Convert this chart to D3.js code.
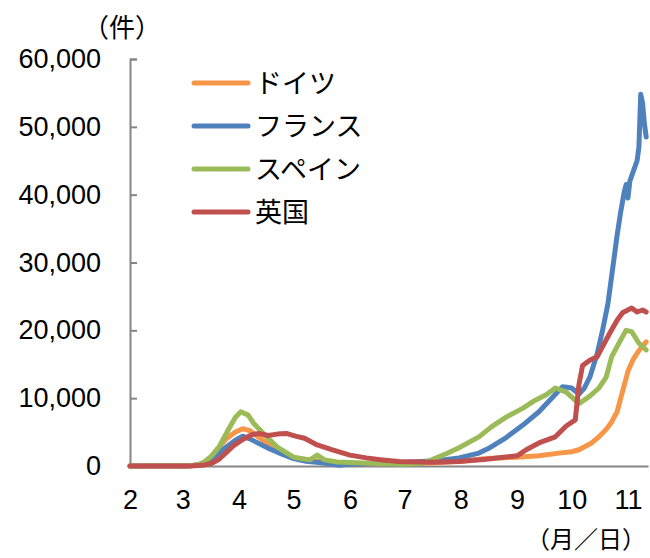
<!DOCTYPE html>
<html>
<head>
<meta charset="utf-8">
<script src="https://cdn.jsdelivr.net/npm/d3@7"></script>
<style>
  html, body { margin: 0; padding: 0; background: #fff; }
  svg { display: block; }
</style>
</head>
<body>
<svg id="chart" width="650" height="558"></svg>
<script>
// ---- data (2020, 7-day average of new cases) ----
const seriesNames = ["ドイツ", "フランス", "スペイン", "英国"];
const seriesColors = ["#F79646", "#4F81BD", "#9BBB59", "#C0504D"];
const yTicks = [0, 10000, 20000, 30000, 40000, 50000, 60000];
const xTickMonths = [2, 3, 4, 5, 6, 7, 8, 9, 10, 11];

const germany = [
  ["02-01",0],["02-28",0],["03-05",50],["03-10",200],["03-15",800],["03-20",2500],["03-25",4000],
  ["03-30",5000],["04-03",5500],["04-07",5200],["04-12",4200],["04-18",3000],["04-25",1900],
  ["05-01",1200],["05-10",800],["05-20",600],["06-01",400],["06-15",350],["07-01",400],["07-15",450],
  ["08-01",700],["08-15",1100],["09-01",1300],["09-13",1500],["09-24",1900],["10-01",2100],
  ["10-05",2400],["10-12",3400],["10-16",4300],["10-20",5400],["10-23",6500],["10-26",8000],
  ["10-29",11000],["11-01",14000],["11-04",15800],["11-07",17000],["11-11",18300]
];
const france = [
  ["02-01",0],["02-28",0],["03-05",50],["03-10",200],["03-15",700],["03-20",1700],["03-25",2800],
  ["03-30",3800],["04-03",4400],["04-07",4000],["04-12",3300],["04-18",2500],["04-25",1700],
  ["05-01",1100],["05-08",700],["05-15",500],["05-22",300],["05-26",100],["06-01",300],["06-15",400],
  ["07-01",500],["07-20",800],["07-31",1200],["08-11",1900],["08-17",2700],["08-26",4200],
  ["09-04",6000],["09-13",8000],["09-20",10000],["09-26",11700],["10-01",11500],["10-05",10600],
  ["10-08",11500],["10-11",13100],["10-15",16500],["10-18",20000],["10-21",24000],["10-23",28000],
  ["10-26",34000],["10-28",37500],["10-30",40500],["10-31",41500],["11-01",39500],["11-02",42000],
  ["11-04",43500],["11-06",45000],["11-07",47000],["11-08",54800],["11-09",53500],["11-10",50500],
  ["11-11",48500]
];
const spain = [
  ["02-01",0],["03-01",0],["03-08",100],["03-12",400],["03-17",1500],["03-21",2800],["03-26",5300],
  ["03-30",7200],["04-02",8000],["04-06",7500],["04-09",6300],["04-15",4600],["04-22",2800],
  ["05-01",1300],["05-10",900],["05-14",1600],["05-18",900],["05-25",600],["06-12",400],["07-01",250],
  ["07-10",350],["07-16",900],["07-24",1800],["07-31",2700],["08-11",4300],["08-18",5800],
  ["08-26",7200],["09-04",8500],["09-11",9700],["09-17",10500],["09-22",11500],["09-28",10900],
  ["10-05",9200],["10-11",10300],["10-16",11500],["10-20",13100],["10-23",16100],["10-28",18600],
  ["10-31",20000],["11-03",19800],["11-07",18100],["11-11",17100]
];
const uk = [
  ["02-01",0],["03-05",0],["03-12",100],["03-17",400],["03-21",1000],["03-25",2000],["03-29",3000],
  ["04-03",3900],["04-08",4600],["04-12",4800],["04-17",4500],["04-22",4700],["04-27",4800],
  ["05-02",4400],["05-07",4100],["05-14",3100],["05-22",2400],["06-01",1600],["06-10",1200],
  ["06-19",900],["06-28",650],["07-16",550],["07-31",650],["08-15",1000],["09-01",1500],
  ["09-06",2400],["09-13",3400],["09-22",4300],["09-28",5900],["10-03",6800],["10-05",12000],
  ["10-07",14800],["10-11",15600],["10-15",16100],["10-18",17600],["10-22",19600],["10-26",21500],
  ["10-29",22600],["11-03",23300],["11-06",22700],["11-09",23000],["11-11",22700]
];
const seriesData = [germany, france, spain, uk];

// ---- drawing ----
const svg = d3.select("#chart");
const parse = d3.timeParse("%Y-%m-%d");
const d = s => parse("2020-" + s);

const x = d3.scaleTime().domain([d("02-01"), d("11-12")]).range([130, 648]);
const y = d3.scaleLinear().domain([0, 60000]).range([466, 59]);

const numFont = "'Liberation Sans', Arial, sans-serif";
const jpFont = "'Noto Sans CJK JP', sans-serif";
const axisColor = "#868686";

// y axis
const yAxis = d3.axisLeft(y).tickValues(yTicks).tickSize(-7).tickPadding(29)
  .tickFormat(d3.format(","));
const gy = svg.append("g").attr("transform", "translate(130,0)").call(yAxis);
gy.select(".domain").attr("stroke", axisColor).attr("stroke-width", 2);
gy.selectAll(".tick line").attr("stroke", axisColor).attr("stroke-width", 2);
gy.selectAll(".tick text").attr("font-family", numFont).attr("font-size", 27).attr("fill", "#000");

// x axis
const xAxis = d3.axisBottom(x).tickValues(xTickMonths.map(m => new Date(2020, m - 1, 1)))
  .tickSize(0).tickPadding(24).tickFormat(t => String(t.getMonth() + 1));
const gx = svg.append("g").attr("transform", "translate(0,466)").call(xAxis);
gx.select(".domain").attr("stroke", axisColor).attr("stroke-width", 2);
gx.selectAll(".tick text").attr("font-family", numFont).attr("font-size", 27).attr("fill", "#000");

// lines
const line = d3.line().x(p => x(d(p[0]))).y(p => y(p[1]));
seriesData.forEach((s, i) => {
  svg.append("path").datum(s).attr("d", line)
    .attr("fill", "none").attr("stroke", seriesColors[i]).attr("stroke-width", 5)
    .attr("stroke-linejoin", "round").attr("stroke-linecap", "round");
});

// legend
const lg = svg.append("g");
seriesNames.forEach((n, i) => {
  const yy = 83 + i * 43;
  lg.append("line").attr("x1", 194).attr("x2", 248).attr("y1", yy).attr("y2", yy)
    .attr("stroke", seriesColors[i]).attr("stroke-width", 5).attr("stroke-linecap", "round");
  lg.append("text").attr("x", 255).attr("y", yy + 10).text(n)
    .attr("font-family", jpFont).attr("font-size", 27).attr("fill", "#000");
});

// unit labels
svg.append("text").attr("x", 122).attr("y", 37).attr("text-anchor", "middle").text("（件）")
  .attr("font-family", jpFont).attr("font-size", 26).attr("fill", "#000");
svg.append("text").attr("x", 646).attr("y", 548).attr("text-anchor", "end").text("（月／日）")
  .attr("font-family", jpFont).attr("font-size", 24).attr("fill", "#000");
</script>
</body>
</html>
